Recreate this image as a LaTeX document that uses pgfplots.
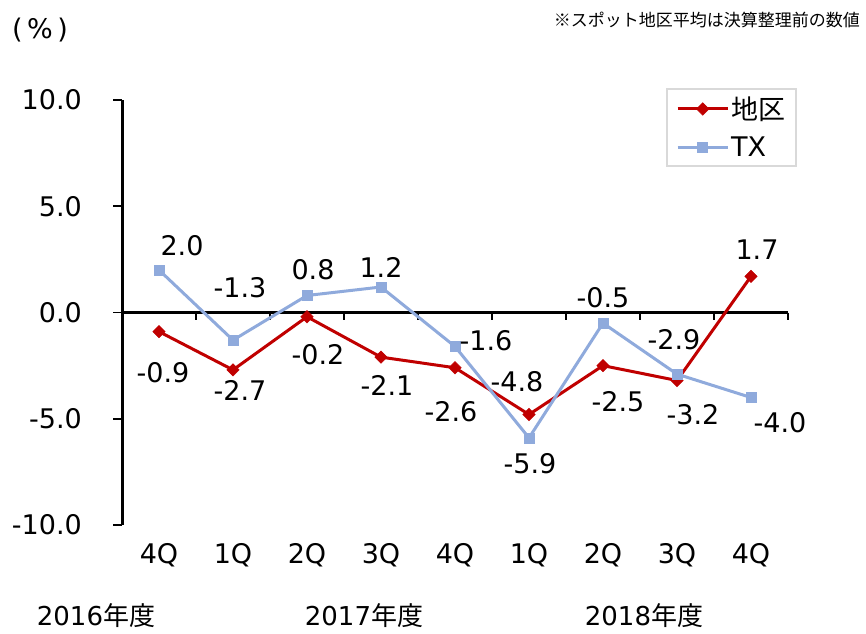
\documentclass[border=0pt]{standalone}
\usepackage{fontspec}
\setmainfont{DejaVu Sans}
\newfontfamily\jp{Noto Sans CJK JP}
\usepackage{pgfplots}
\usepackage{pgfplotstable}
\pgfplotsset{compat=1.18}
\definecolor{cRed}{HTML}{C00000}
\definecolor{cBlue}{HTML}{8FAADC}

\pgfplotstableread{
x y lab dx dy
0 -0.9 -0.9 4 -41
1 -2.7 -2.7 7 -21
2 -0.2 -0.2 11 -38
3 -2.1 -2.1 6 -28
4 -2.6 -2.6 -4 -44
5 -4.8 -4.8 -12 33
6 -2.5 -2.5 15 -36
7 -3.2 -3.2 16 -34
8 1.7 1.7 6 27
}\chiku

\pgfplotstableread{
x y lab dx dy
0 2.0 2.0 23 24
1 -1.3 -1.3 7 52
2 0.8 0.8 6 26
3 1.2 1.2 0 20
4 -1.6 -1.6 31 6
5 -5.9 -5.9 1 -26
6 -0.5 -0.5 0 25
7 -2.9 -2.9 -3 34
8 -4.0 -4.0 29 -25
}\tx

\begin{document}
\begin{tikzpicture}
\useasboundingbox (0pt,0pt) rectangle (866pt,633pt);
\begin{axis}[
  at={(122pt,108pt)}, anchor=south west,
  scale only axis, width=666pt, height=425pt,
  xmin=-0.5, xmax=8.5, ymin=-10, ymax=10,
  axis y line*=left, axis x line*=bottom,
  x axis line style={draw=none},
  y axis line style={line width=3pt, black},
  xtick={0,...,8}, xticklabels={4Q,1Q,2Q,3Q,4Q,1Q,2Q,3Q,4Q},
  xtick style={draw=none},
  ytick={-10,-5,0,5,10}, yticklabels={-10.0,-5.0,0.0,5.0,10.0},
  tick align=outside, major tick length=9pt,
  ytick style={line width=1.8pt, black},
  tick label style={font=\fontsize{27}{31}\selectfont},
  yticklabel style={anchor=east, inner sep=0pt, xshift=-31pt},
  xticklabel style={anchor=center, inner sep=0pt, yshift=-21pt},
  clip=false,
  legend style={at={(1.0135,1.028)}, anchor=north east, draw=black!15, line width=1.5pt,
    font=\fontsize{27}{31}\selectfont, inner xsep=9pt, inner ysep=6pt, row sep=12pt,
    cells={anchor=west}},
  legend image code/.code={%
    \draw[#1, line width=3pt, mark=none] (0pt,0pt) -- (50pt,0pt);
    \draw[#1, line width=0.5pt, only marks] plot coordinates {(25pt,0pt)};},
]
\draw[line width=3pt] (axis cs:-0.5,0) -- (axis cs:8.5,0);
\pgfplotsinvokeforeach{0.5,1.5,2.5,3.5,4.5,5.5,6.5,7.5,8.5}{
  \draw[line width=1.8pt] (axis cs:#1,0) -- ++(0pt,-7pt);
}
\addplot[color=cRed, line width=3pt, mark=square*, mark size=4.4pt,
  mark options={rotate=45, line width=0.5pt, solid},
  nodes near coords, point meta=explicit symbolic,
  visualization depends on={\thisrow{dx}\as\dx},
  visualization depends on={\thisrow{dy}\as\dy},
  every node near coord/.append style={anchor=center, text=black, font=\fontsize{27}{31}\selectfont, inner sep=0pt, xshift=\dx, yshift=\dy}]
  table[x=x, y=y, meta=lab]{\chiku};
\addlegendentry{{\jp 地区}}
\addplot[color=cBlue, line width=3pt, mark=square*, mark size=5pt,
  mark options={line width=0.5pt, solid},
  nodes near coords, point meta=explicit symbolic,
  visualization depends on={\thisrow{dx}\as\dx},
  visualization depends on={\thisrow{dy}\as\dy},
  every node near coord/.append style={anchor=center, text=black, font=\fontsize{27}{31}\selectfont, inner sep=0pt, xshift=\dx, yshift=\dy}]
  table[x=x, y=y, meta=lab]{\tx};
\addlegendentry{TX}
\end{axis}
\node[font=\fontsize{27}{31}\selectfont] at (40pt,603pt) {(\,\%\,)};
\node[anchor=east, font=\jp\fontsize{17}{20}\selectfont, inner sep=0pt] at (860pt,613pt) {※スポット地区平均は決算整理前の数値};
\node[font=\fontsize{26}{30}\selectfont, inner sep=0pt] at (96pt,17pt) {2016{\jp 年度}};
\node[font=\fontsize{26}{30}\selectfont, inner sep=0pt] at (364pt,17pt) {2017{\jp 年度}};
\node[font=\fontsize{26}{30}\selectfont, inner sep=0pt] at (644pt,17pt) {2018{\jp 年度}};
\end{tikzpicture}
\end{document}
